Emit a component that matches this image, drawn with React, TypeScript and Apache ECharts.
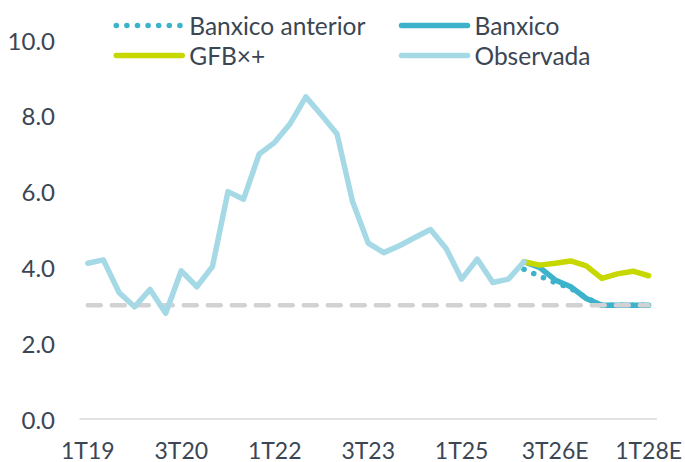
import React, { useEffect, useRef } from "react";
import * as echarts from "echarts";

const categories = [
  "1T19", "2T19", "3T19", "4T19",
  "1T20", "2T20", "3T20", "4T20",
  "1T21", "2T21", "3T21", "4T21",
  "1T22", "2T22", "3T22", "4T22",
  "1T23", "2T23", "3T23", "4T23",
  "1T24", "2T24", "3T24", "4T24",
  "1T25", "2T25", "3T25", "4T25",
  "1T26E", "2T26E", "3T26E", "4T26E",
  "1T27E", "2T27E", "3T27E", "4T27E",
  "1T28E",
];

const observada: (number | null)[] = [
  4.11, 4.2, 3.34, 2.96,
  3.42, 2.79, 3.91, 3.49,
  4.02, 6.0, 5.8, 6.99,
  7.3, 7.8, 8.5, 8.02,
  7.52, 5.73, 4.64, 4.39,
  4.57, 4.79, 5.0, 4.5,
  3.69, 4.22, 3.6, 3.69,
  4.15, null, null, null,
  null, null, null, null,
  null,
];

const gfb: (number | null)[] = [
  null, null, null, null, null, null, null, null, null, null, null, null,
  null, null, null, null, null, null, null, null, null, null, null, null,
  null, null, null, null,
  4.15, 4.06, 4.11, 4.17,
  4.04, 3.71, 3.83, 3.9,
  3.78,
];

const banxico: (number | null)[] = [
  null, null, null, null, null, null, null, null, null, null, null, null,
  null, null, null, null, null, null, null, null, null, null, null, null,
  null, null, null, null,
  4.15, 4.0, 3.67, 3.49,
  3.18, 3.0, 3.0, 3.0,
  3.0,
];

const banxicoAnterior: (number | null)[] = [
  null, null, null, null, null, null, null, null, null, null, null, null,
  null, null, null, null, null, null, null, null, null, null, null, null,
  null, null, null, null,
  3.95, 3.77, 3.6, 3.45,
  3.2, 3.0, 3.0, 3.0,
  3.0,
];

const objetivo: number[] = categories.map(() => 3.0);

const yTicks = [0, 2, 4, 6, 8, 10];

const FONT = "Lato";
const TEXT = "#3a4654";
const C_OBS = "#a6d9e6";
const C_BX = "#3cb2cb";
const C_GFB = "#c6d800";
const C_GRAY = "#d2d2d4";

export default function App() {
  const ref = useRef<HTMLDivElement>(null);
  useEffect(() => {
    document.body.style.margin = "0";
    if (!ref.current) return;
    const chart = echarts.init(ref.current, undefined, { renderer: "svg" });
    const legendBase = {
      top: 8,
      orient: "vertical",
      itemWidth: 66,
      itemHeight: 12,
      itemGap: 5,
      textStyle: { fontFamily: FONT, fontSize: 24.5, color: TEXT, padding: [0, 0, 0, 2] },
      lineStyle: { width: 5.5 },
      itemStyle: { opacity: 0 },
    };
    chart.setOption({
      animation: false,
      textStyle: { fontFamily: FONT },
      grid: { left: 80, right: 26, top: 40, bottom: 43 },
      legend: [
        { ...legendBase, left: 108.5, data: ["Banxico anterior", "GFB×+"] },
        { ...legendBase, left: 393.75, data: ["Banxico", "Observada"] },
      ],
      xAxis: {
        type: "category",
        data: categories,
        boundaryGap: true,
        axisLine: { show: true, lineStyle: { color: "#d9d9d9", width: 1.5 } },
        axisTick: { show: false },
        axisLabel: {
          interval: 5,
          margin: 19,
          fontFamily: FONT,
          fontSize: 23,
          color: TEXT,
        },
      },
      yAxis: {
        type: "value",
        min: 0,
        max: 10,
        interval: 2,
        splitLine: { show: false },
        axisLine: { show: false },
        axisTick: { show: false },
        axisLabel: {
          margin: 25,
          fontFamily: FONT,
          fontSize: 24,
          color: TEXT,
          formatter: (v: number) => (yTicks.includes(v) ? v.toFixed(1) : ""),
        },
      },
      series: [
        {
          name: "Banxico anterior",
          type: "line",
          data: banxicoAnterior,
          symbol: "none",
          color: C_BX,
          lineStyle: { color: C_BX, width: 5.5, type: [0.1, 10.5], cap: "round" },
          z: 1,
        },
        {
          name: "Banxico",
          type: "line",
          data: banxico,
          symbol: "none",
          color: C_BX,
          lineStyle: { color: C_BX, width: 5.5, cap: "round", join: "round" },
          z: 2,
        },
        {
          name: "Objetivo",
          type: "line",
          data: objetivo,
          symbol: "none",
          silent: true,
          lineStyle: { color: C_GRAY, width: 4.5, type: [13, 11], cap: "round" },
          z: 3,
        },
        {
          name: "GFB×+",
          type: "line",
          data: gfb,
          symbol: "none",
          color: C_GFB,
          lineStyle: { color: C_GFB, width: 5.5, cap: "round", join: "round" },
          z: 4,
        },
        {
          name: "Observada",
          type: "line",
          data: observada,
          symbol: "none",
          color: C_OBS,
          lineStyle: { color: C_OBS, width: 5.5, cap: "round", join: "round" },
          z: 5,
        },
      ],
    });
    return () => chart.dispose();
  }, []);
  return <div ref={ref} style={{ width: 685, height: 462 }} />;
}
